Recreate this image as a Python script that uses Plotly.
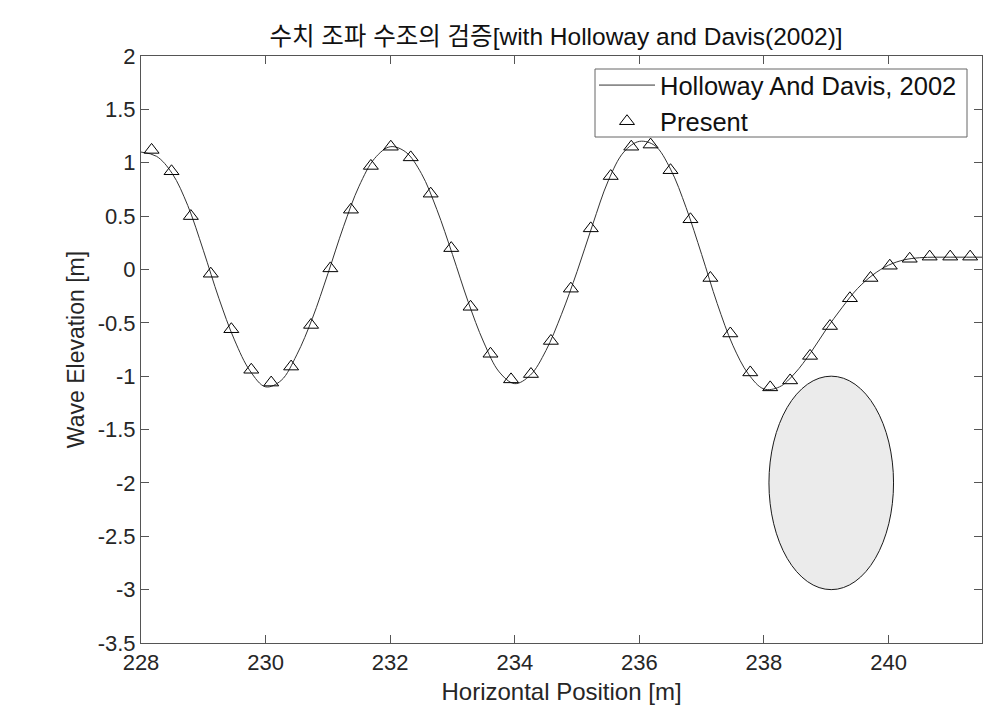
import plotly.graph_objects as go

# Holloway and Davis (2002) reference curve
ref_x = [228.0, 228.25, 228.5, 228.75, 229.0, 229.25, 229.5, 229.75, 230.0, 230.25,
         230.5, 230.75, 231.0, 231.25, 231.5, 231.75, 232.0, 232.25, 232.5, 232.75,
         233.0, 233.25, 233.5, 233.75, 234.0, 234.25, 234.5, 234.75, 235.0, 235.25,
         235.5, 235.75, 236.0, 236.25, 236.5, 236.75, 237.0, 237.25, 237.5, 237.75,
         238.0, 238.25, 238.5, 238.75, 239.0, 239.25, 239.5, 239.75, 240.0, 240.25,
         240.5, 240.75, 241.0, 241.25, 241.5]
ref_y = [1.10, 1.06, 0.90, 0.60, 0.18, -0.27, -0.66, -0.95, -1.10, -1.04,
         -0.80, -0.46, -0.04, 0.40, 0.78, 1.04, 1.15, 1.10, 0.90, 0.56,
         0.14, -0.30, -0.68, -0.96, -1.07, -0.99, -0.76, -0.42, -0.02, 0.42,
         0.83, 1.10, 1.20, 1.16, 0.94, 0.58, 0.14, -0.32, -0.71, -0.98,
         -1.12, -1.10, -0.97, -0.78, -0.56, -0.36, -0.18, -0.05, 0.04, 0.09,
         0.11, 0.115, 0.115, 0.115, 0.115]

# Present (numerical wave tank) results
pres_x = [228.17, 228.49, 228.80, 229.12, 229.45, 229.77, 230.09, 230.41, 230.73, 231.04,
          231.37, 231.69, 232.01, 232.33, 232.65, 232.98, 233.29, 233.61, 233.94, 234.26,
          234.58, 234.90, 235.22, 235.54, 235.87, 236.18, 236.50, 236.82, 237.14, 237.46,
          237.78, 238.10, 238.42, 238.74, 239.06, 239.38, 239.71, 240.02, 240.34, 240.66,
          240.99, 241.31]
pres_y = [1.12, 0.92, 0.50, -0.04, -0.56, -0.94, -1.06, -0.91, -0.52, 0.01,
          0.56, 0.97, 1.15, 1.05, 0.71, 0.20, -0.35, -0.79, -1.03, -0.98,
          -0.67, -0.18, 0.385, 0.875, 1.15, 1.17, 0.93, 0.47, -0.08, -0.60,
          -0.965, -1.105, -1.04, -0.81, -0.53, -0.27, -0.08, 0.035, 0.10, 0.12,
          0.12, 0.12]

# submerged body (ellipse in data units)
body_cx, body_cy, body_rx, body_ry = 239.08, -2.0, 1.0, 1.0

x_ticks = [228, 230, 232, 234, 236, 238, 240]
y_ticks = [2, 1.5, 1, 0.5, 0, -0.5, -1, -1.5, -2, -2.5, -3, -3.5]

FONT = "Liberation Sans, Arial, Noto Sans CJK KR, sans-serif"

# plot-area geometry in pixels (for legend box placement)
L, R, T, B = 141, 13, 56, 79
W, H = 995, 722
PW, PH = W - L - R, H - T - B

def px_x(p):
    return (p - L) / PW

def px_y(p):
    return (H - B - p) / PH

fig = go.Figure()
fig.add_trace(go.Scatter(x=ref_x, y=ref_y, mode="lines", name="Holloway And Davis, 2002",
                         line=dict(color="#333333", width=1, shape="spline")))
fig.add_trace(go.Scatter(x=pres_x, y=pres_y, mode="markers", name="Present",
                         marker=dict(symbol="triangle-up-open", size=13, color="black",
                                     line=dict(width=1, color="black"))))

fig.add_shape(type="circle", xref="x", yref="y",
              x0=body_cx - body_rx, x1=body_cx + body_rx,
              y0=body_cy - body_ry, y1=body_cy + body_ry,
              fillcolor="#ebebeb", line=dict(color="#1a1a1a", width=1), layer="below")

# legend frame (drawn above data, legend text sits on top)
fig.add_shape(type="rect", xref="paper", yref="paper",
              x0=px_x(595), x1=px_x(967), y0=px_y(137), y1=px_y(69),
              fillcolor="white", line=dict(color="#666666", width=1), layer="above")

axis_common = dict(showline=True, linecolor="#555555", linewidth=1, mirror="ticks",
                   ticks="inside", ticklen=8, tickcolor="#555555", showgrid=False,
                   zeroline=False, automargin=False,
                   tickfont=dict(size=22, color="#262626", family=FONT))

fig.update_layout(
    width=W, height=H,
    margin=dict(l=L, r=R, t=T, b=B, autoexpand=False),
    paper_bgcolor="white", plot_bgcolor="white",
    font=dict(family=FONT, color="#262626"),
    title=dict(text="수치 조파 수조의 검증[with Holloway and Davis(2002)]",
               x=556 / W, xanchor="center", y=1 - 36 / H, yanchor="middle",
               font=dict(size=24.5, color="#111111", family=FONT)),
    xaxis=dict(range=[228, 241.5], tickvals=x_ticks, ticktext=[str(v) for v in x_ticks],
               title=dict(text="Horizontal Position [m]", font=dict(size=24, family=FONT), standoff=8),
               **axis_common),
    yaxis=dict(range=[-3.5, 2], tickvals=y_ticks, ticktext=[f"{v:g}" for v in y_ticks],
               title=dict(text="Wave Elevation [m]", font=dict(size=23, family=FONT), standoff=6),
               **axis_common),
    legend=dict(x=px_x(594), y=px_y(62), xanchor="left", yanchor="top",
                borderwidth=0, bgcolor="rgba(0,0,0,0)",
                font=dict(size=25.5, color="#111111", family=FONT), itemwidth=56,
                tracegroupgap=0),
    showlegend=True,
)

fig.write_html("out.html", config={"displayModeBar": False},
               post_script="document.body.style.margin='0';document.body.style.padding='0';")
